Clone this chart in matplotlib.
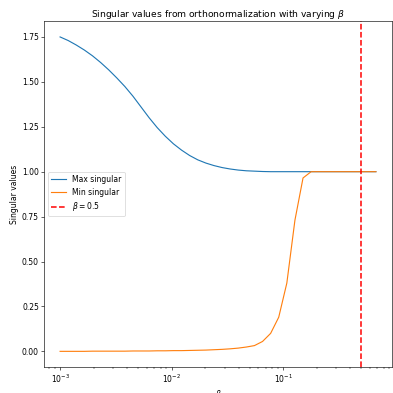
import numpy as np
import matplotlib
matplotlib.use("Agg")
import matplotlib.pyplot as plt

# beta values (40 log-spaced points from 1e-3 to about 0.68)
betas = np.geomspace(1e-3, 0.68, 40)

# singular values
max_singular = [1.750, 1.730, 1.705, 1.677, 1.645, 1.608, 1.567, 1.522, 1.474, 1.420,
                1.360, 1.300, 1.245, 1.197, 1.155, 1.120, 1.090, 1.066, 1.048, 1.034,
                1.023, 1.015, 1.009, 1.005, 1.003, 1.001, 1.000, 1.000, 1.000, 1.000,
                1.000, 1.000, 1.000, 1.000, 1.000, 1.000, 1.000, 1.000, 1.000, 1.000]
min_singular = [0.000, 0.000, 0.000, 0.000, 0.001, 0.001, 0.001, 0.001, 0.001, 0.002,
                0.002, 0.002, 0.003, 0.003, 0.004, 0.004, 0.005, 0.006, 0.007, 0.009,
                0.011, 0.014, 0.018, 0.024, 0.032, 0.055, 0.100, 0.190, 0.380, 0.730,
                0.965, 1.000, 1.000, 1.000, 1.000, 1.000, 1.000, 1.000, 1.000, 1.000]
beta_ref = 0.5

dpi = 393 / 7.2
fig = plt.figure(figsize=(7.2, 7.2), dpi=dpi)
ax = fig.add_axes([0.1127, 0.066, 0.884, 0.880])

ax.plot(betas, max_singular, label="Max singular")
ax.plot(betas, min_singular, label="Min singular")
ax.axvline(beta_ref, color="red", linestyle="--", linewidth=2.0,
           label=r"$\beta = 0.5$")
ax.set_xscale("log")
ax.set_title(r"Singular values from orthonormalization with varying $\beta$")
ax.set_xlabel(r"$\beta$")
ax.set_ylabel("Singular values")
ax.legend(loc="center left")

fig.savefig("out.png", dpi=dpi)
